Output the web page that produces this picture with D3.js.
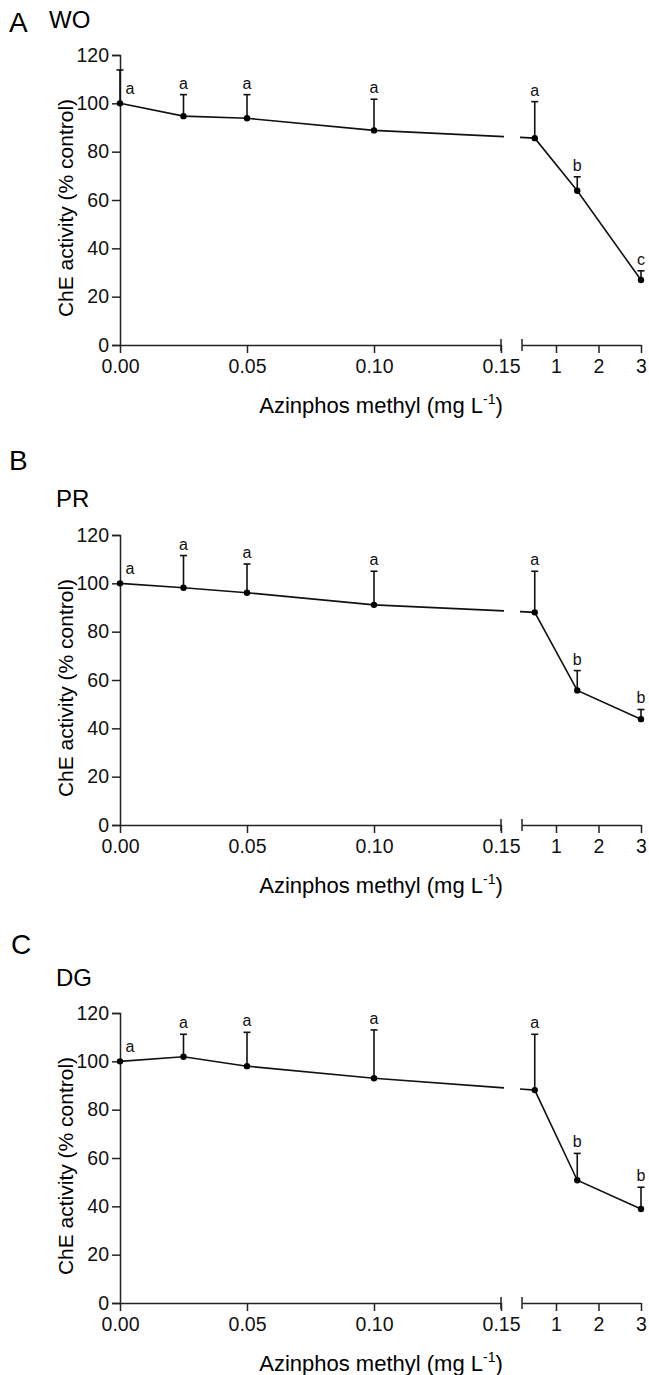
<!DOCTYPE html>
<html>
<head>
<meta charset="utf-8">
<script src="https://cdn.jsdelivr.net/npm/d3@7"></script>
<style>
  body { margin: 0; background: #fff; }
  svg { display: block; font-family: "Liberation Sans", Arial, sans-serif; }
</style>
</head>
<body>
<svg id="chart" width="649" height="1375"></svg>
<script>
// data
const doses = [0, 0.025, 0.05, 0.1, 0.5, 1.5, 3];
const panelLetters = ['A', 'B', 'C'];
const siteNames = ['WO', 'PR', 'DG'];

const woMean = [100, 94.7, 93.8, 88.8, 85.6, 63.8, 26.9];
const woErr = [13.8, 8.9, 9.8, 12.9, 15.1, 5.8, 3.8];
const woSig = ['a', 'a', 'a', 'a', 'a', 'b', 'c'];

const prMean = [100, 98.2, 96.1, 91.1, 88.0, 55.7, 43.8];
const prErr = [0, 13.3, 11.9, 13.9, 17.0, 8.2, 4.0];
const prSig = ['a', 'a', 'a', 'a', 'a', 'b', 'b'];

const dgMean = [100, 101.9, 98.0, 93.0, 88.1, 50.8, 38.9];
const dgErr = [0, 9.3, 14.0, 20.0, 23.1, 11.1, 9.0];
const dgSig = ['a', 'a', 'a', 'a', 'a', 'b', 'b'];

const yTicks = [0, 20, 40, 60, 80, 100, 120];
const xTicksLow = [0, 0.05, 0.10, 0.15];
const xTicksHigh = [1, 2, 3];

const means = [woMean, prMean, dgMean];
const errs = [woErr, prErr, dgErr];
const sigs = [woSig, prSig, dgSig];

// layout
const plotTops = [55, 535, 1013];
const plotH = 290;
const letterPos = [[9, 32], [9, 470], [11, 954]];
const namePos = [[49, 28], [56, 507], [56, 986]];
const lowRange = [120, 501];
const highRange = [522, 641];
const breakLow = 0.15;

let svg = d3.select('#chart');

let xLow = d3.scaleLinear().domain([0, 0.15]).range(lowRange);
let xHigh = d3.scaleLinear().domain([0.2, 3]).range(highRange);
function xPos(d) { return d <= breakLow ? xLow(d) : xHigh(d); }

// clip paths for the broken axis
let defs = svg.append('defs');
defs.append('clipPath').attr('id', 'clipLow')
    .append('rect').attr('x', 0).attr('y', 0).attr('width', 504).attr('height', 1375);
defs.append('clipPath').attr('id', 'clipHigh')
    .append('rect').attr('x', 520).attr('y', 0).attr('width', 200).attr('height', 1375);

panelLetters.forEach(function (letter, p) {
    let top = plotTops[p];
    let y = d3.scaleLinear().domain([0, 120]).range([top + plotH, top]);
    let base = top + plotH;
    let g = svg.append('g');

    // panel letter + site name
    g.append('text').attr('x', letterPos[p][0]).attr('y', letterPos[p][1])
        .attr('font-size', 28).text(letter);
    g.append('text').attr('x', namePos[p][0]).attr('y', namePos[p][1])
        .attr('font-size', 24).text(siteNames[p]);

    // y axis
    let yAxis = g.append('g').attr('transform', 'translate(' + lowRange[0] + ',0)')
        .call(d3.axisLeft(y).tickValues(yTicks).tickSize(8).tickPadding(3));
    yAxis.selectAll('text').attr('font-size', 19.5).attr('fill', '#111');

    // x axis, two segments
    let axLow = g.append('g').attr('transform', 'translate(0,' + base + ')')
        .call(d3.axisBottom(xLow).tickValues(xTicksLow).tickFormat(d3.format('.2f'))
            .tickSize(8).tickSizeOuter(0).tickPadding(6));
    let axHigh = g.append('g').attr('transform', 'translate(0,' + base + ')')
        .call(d3.axisBottom(xHigh).tickValues(xTicksHigh).tickFormat(d3.format('d'))
            .tickSize(8).tickSizeOuter(0).tickPadding(6));
    [yAxis, axLow, axHigh].forEach(function (a) {
        a.attr('font-family', null);
        a.select('.domain').attr('stroke', '#222').attr('stroke-width', 1.5);
        a.selectAll('.tick line').attr('stroke', '#222').attr('stroke-width', 1.5);
    });
    axLow.selectAll('text').attr('font-size', 19.5).attr('fill', '#111');
    axHigh.selectAll('text').attr('font-size', 19.5).attr('fill', '#111');

    // break marks
    [lowRange[1], highRange[0]].forEach(function (bx) {
        g.append('line').attr('x1', bx).attr('x2', bx)
            .attr('y1', base - 6).attr('y2', base + 6)
            .attr('stroke', '#222').attr('stroke-width', 1.5);
    });

    // axis titles
    g.append('text')
        .attr('transform', 'translate(73,' + (top + plotH / 2 + 8) + ') rotate(-90)')
        .attr('text-anchor', 'middle').attr('font-size', 21)
        .text('ChE activity (% control)');

    let xt = g.append('text').attr('x', 381).attr('y', base + 68)
        .attr('text-anchor', 'middle').attr('font-size', 22);
    xt.append('tspan').text('Azinphos methyl (mg L');
    xt.append('tspan').attr('dy', -9).attr('font-size', 14).text('-1');
    xt.append('tspan').attr('dy', 9).text(')');

    let pts = doses.map(function (d, i) {
        return { dose: d, mean: means[p][i], err: errs[p][i], sig: sigs[p][i] };
    });

    // line, drawn twice and clipped on each side of the break
    let line = d3.line().x(function (d) { return xPos(d.dose); })
        .y(function (d) { return y(d.mean); });
    ['clipLow', 'clipHigh'].forEach(function (c) {
        g.append('path').datum(pts).attr('d', line)
            .attr('fill', 'none').attr('stroke', '#111').attr('stroke-width', 1.6)
            .attr('clip-path', 'url(#' + c + ')');
    });

    // error bars (upper only)
    let eb = g.selectAll('.err').data(pts.filter(function (d) { return d.err > 0; }))
        .enter().append('g');
    eb.append('line')
        .attr('x1', function (d) { return xPos(d.dose); })
        .attr('x2', function (d) { return xPos(d.dose); })
        .attr('y1', function (d) { return y(d.mean); })
        .attr('y2', function (d) { return y(d.mean + d.err); })
        .attr('stroke', '#111').attr('stroke-width', 1.6);
    eb.append('line')
        .attr('x1', function (d) { return xPos(d.dose) - 3.5; })
        .attr('x2', function (d) { return xPos(d.dose) + 3.5; })
        .attr('y1', function (d) { return y(d.mean + d.err); })
        .attr('y2', function (d) { return y(d.mean + d.err); })
        .attr('stroke', '#111').attr('stroke-width', 1.6);

    // points
    g.selectAll('.pt').data(pts).enter().append('circle')
        .attr('cx', function (d) { return xPos(d.dose); })
        .attr('cy', function (d) { return y(d.mean); })
        .attr('r', 3.2).attr('fill', '#000');

    // significance letters
    g.selectAll('.sig').data(pts).enter().append('text')
        .attr('x', function (d, i) { return i === 0 ? xPos(d.dose) + 10 : xPos(d.dose); })
        .attr('y', function (d, i) { return i === 0 ? y(d.mean) - 9 : y(d.mean + d.err) - 6; })
        .attr('text-anchor', 'middle')
        .attr('font-size', 16).attr('fill', '#111')
        .text(function (d) { return d.sig; });
});
</script>
</body>
</html>
